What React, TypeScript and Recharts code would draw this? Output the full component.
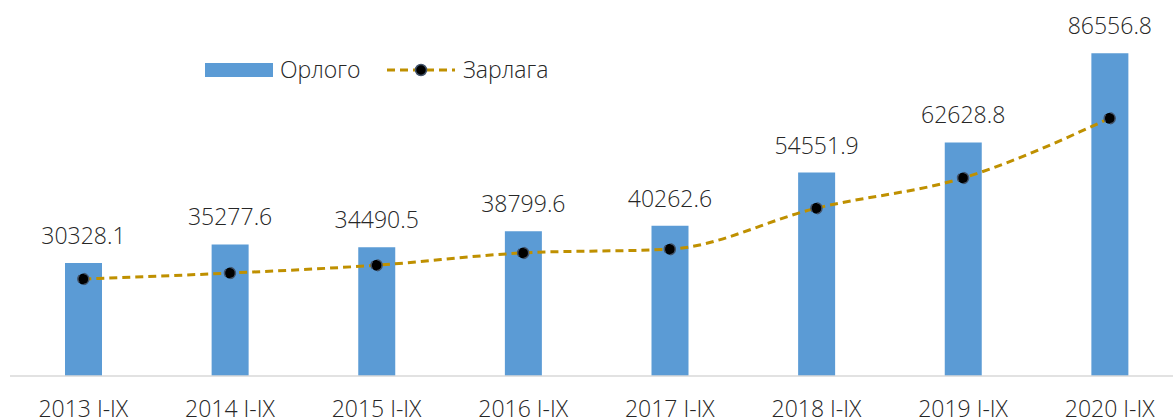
import React from 'react';
import { ComposedChart, Bar, Line, XAxis, YAxis, LabelList, Legend } from 'recharts';

const categories = ['2013 I-IX', '2014 I-IX', '2015 I-IX', '2016 I-IX', '2017 I-IX', '2018 I-IX', '2019 I-IX', '2020 I-IX'];
const revenue = [30328.1, 35277.6, 34490.5, 38799.6, 40262.6, 54551.9, 62628.8, 86556.8];
const expense = [26000, 27600, 29700, 33000, 34000, 45000, 53100, 69100];

const data = categories.map((c, i) => ({ name: c, rev: revenue[i], exp: expense[i] }));

const FONT = '"Open Sans", sans-serif';
const TEXT = '#262626';
const FS = 23;

const renderTick = (props: any) => {
  const { x, y, payload } = props;
  return (
    <text x={x} y={y + 33} textAnchor="middle" fontFamily={FONT} fontWeight={300} fontSize={FS} fill={TEXT}>
      {payload.value}
    </text>
  );
};

const renderLabel = (props: any) => {
  const { x, y, width, value } = props;
  return (
    <text x={x + width / 2} y={y - 19} textAnchor="middle" fontFamily={FONT} fontWeight={300} fontSize={FS} fill={TEXT}>
      {Number(value).toFixed(1)}
    </text>
  );
};

const renderLegend = () => (
  <svg width={360} height={36} style={{ overflow: 'visible' }}>
    <rect x={0} y={8} width={68} height={14} fill="#5B9BD5" />
    <text x={75} y={23} fontFamily={FONT} fontWeight={300} fontSize={FS} fill={TEXT}>Орлого</text>
    <line x1={182} y1={15} x2={250} y2={15} stroke="#BF9000" strokeWidth={3} strokeDasharray="8 5" />
    <circle cx={216} cy={15} r={5.5} fill="#000" stroke="#44546A" strokeWidth={1.5} />
    <text x={258} y={23} fontFamily={FONT} fontWeight={300} fontSize={FS} fill={TEXT}>Зарлага</text>
  </svg>
);

export default function App() {
  return (
    <div style={{ position: 'absolute', left: 0, top: 0, width: 1173, height: 420, overflow: 'hidden', background: '#fff' }}>
      <ComposedChart width={1183} height={430} data={data} margin={{ top: 3, right: 0, left: 10, bottom: 0 }} barCategoryGap={0}>
        <XAxis dataKey="name" axisLine={{ stroke: '#D9D9D9', strokeWidth: 1.5 }} tickLine={false} tick={renderTick} height={54} interval={0} />
        <YAxis hide domain={[0, 100000]} allowDataOverflow />
        <Legend content={renderLegend} verticalAlign="middle" align="center" wrapperStyle={{ position: 'absolute', left: 205, top: 55, width: 360 }} />
        <Bar dataKey="rev" fill="#5B9BD5" barSize={37} isAnimationActive={false}>
          <LabelList dataKey="rev" content={renderLabel} />
        </Bar>
        <Line
          dataKey="exp"
          type="monotone"
          stroke="#BF9000"
          strokeWidth={3}
          strokeDasharray="8 5"
          dot={{ r: 5.5, fill: '#000', stroke: '#44546A', strokeWidth: 1.5 }}
          isAnimationActive={false}
        />
      </ComposedChart>
    </div>
  );
}
